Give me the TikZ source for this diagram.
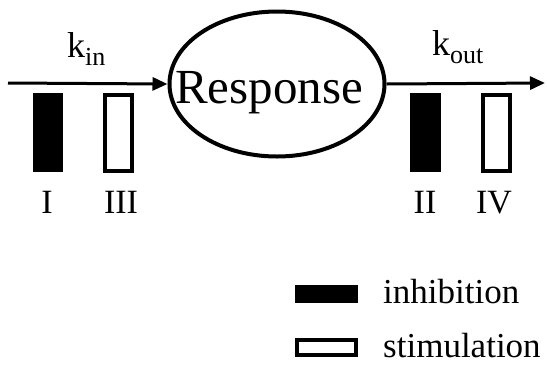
\documentclass[tikz,border=0pt]{standalone}
\usepackage{fontspec}
\setmainfont{Liberation Serif}
\usetikzlibrary{shapes.geometric,arrows.meta}
\newcommand{\mysub}[1]{\raisebox{-8pt}{\fontsize{26}{30}\selectfont #1}}
\tikzset{
  lw/.style={line width=4pt},
  arr/.style={line width=3pt,-{Triangle[length=15pt,width=13pt]}},
  inhbar/.style={fill=black,draw=none,minimum width=30pt,minimum height=79pt,inner sep=0pt},
  stimbar/.style={fill=white,draw=black,lw,minimum width=27pt,minimum height=76pt,inner sep=0pt},
  lab/.style={font=\fontsize{34}{38}\selectfont,anchor=base,inner sep=0pt},
  rate/.style={font=\fontsize{36}{40}\selectfont,anchor=base west,inner sep=0pt},
  legtext/.style={font=\fontsize{35}{38}\selectfont,anchor=base west,inner sep=0pt},
}
\begin{document}
\begin{tikzpicture}[x=1pt,y=1pt]
\useasboundingbox (0,0) rectangle (547,-373);
\node[ellipse,draw,lw,minimum width=215pt,minimum height=145pt,inner sep=0pt] (resp) at (277,-84) {};
\node[font=\fontsize{49}{54}\selectfont,anchor=base,inner sep=0pt] (resptext) at (269,-103) {Response};
\coordinate (start) at (8,-83);
\coordinate (end) at (545,-83);
\draw[arr] (start) -- (resp.west);
\draw[arr] (resp.east) -- (end);
\node[rate] (kin) at (67,-57) {k\mysub{in}};
\node[rate] (kout) at (432,-55) {k\mysub{out}};
\node[inhbar] (b1) at (48,-132.5) {};
\node[stimbar] (b3) at (118.5,-132.5) {};
\node[inhbar,minimum width=31pt] (b2) at (425.5,-132.5) {};
\node[stimbar] (b4) at (496.5,-132.5) {};
\node[lab] (l1) at (47,-213) {I};
\node[lab] (l3) at (121,-213) {III};
\node[lab] (l2) at (425,-213) {II};
\node[lab] (l4) at (494,-213) {IV};
\node[fill=black,minimum width=63pt,minimum height=18pt,inner sep=0pt] (leg1) at (326.5,-294) {};
\node[draw,lw,fill=white,minimum width=59pt,minimum height=15pt,inner sep=0pt] (leg2) at (326.5,-347.5) {};
\node[legtext] (t1) at (383,-303) {inhibition};
\node[legtext] (t2) at (383,-357) {stimulation};
\end{tikzpicture}
\end{document}
